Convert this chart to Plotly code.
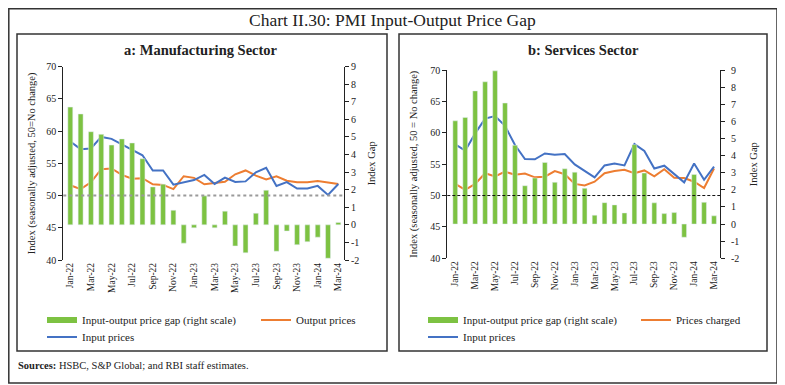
import plotly.graph_objects as go

# The page body adds an 8px offset; the figure is sized to fill the rest of the window.
OFF = 8
W, H = 785 - OFF, 385 - OFF

months = ["Jan-22", "Feb-22", "Mar-22", "Apr-22", "May-22", "Jun-22", "Jul-22", "Aug-22",
          "Sep-22", "Oct-22", "Nov-22", "Dec-22", "Jan-23", "Feb-23", "Mar-23", "Apr-23",
          "May-23", "Jun-23", "Jul-23", "Aug-23", "Sep-23", "Oct-23", "Nov-23", "Dec-23",
          "Jan-24", "Feb-24", "Mar-24"]
tick_labels = months[::2]

# a: Manufacturing
mfg_gap = [6.70, 6.31, 5.30, 5.15, 4.54, 4.89, 4.66, 3.76, 2.16, 2.31, 0.83, -1.04,
           -0.17, 1.65, -0.17, 0.78, -1.20, -1.59, 0.66, 1.97, -1.50, -0.35, -1.13, -0.96,
           -0.70, -1.90, 0.14]
mfg_input = [58.4, 57.2, 57.3, 59.1, 58.8, 57.95, 57.1, 56.25, 53.9, 53.9, 51.7, 52.0,
             52.4, 53.2, 51.8, 52.8, 52.1, 52.2, 53.6, 54.3, 51.5, 52.1, 51.1, 51.1,
             51.5, 50.1, 51.8]
mfg_output = [51.6, 51.0, 52.05, 54.1, 54.2, 53.2, 52.6, 52.7, 51.75, 51.65, 51.0, 53.0,
              52.75, 51.75, 51.95, 52.15, 53.3, 53.9, 53.1, 52.5, 53.0, 52.3, 52.05, 52.05,
              52.25, 52.05, 51.8]

# b: Services
svc_gap = [6.03, 6.23, 7.78, 8.31, 8.95, 7.07, 4.60, 2.24, 2.69, 3.60, 2.44, 3.23,
           3.03, 2.09, 0.52, 1.25, 1.12, 0.65, 4.64, 2.98, 1.24, 0.61, 0.67, -0.77,
           2.90, 1.27, 0.48]
svc_input = [58.16, 57.15, 59.9, 62.25, 62.67, 61.1, 58.05, 55.8, 55.77, 56.7, 56.5, 56.6,
             54.95, 53.9, 52.9, 54.8, 55.1, 54.8, 58.2, 57.1, 54.3, 54.75, 53.4, 52.1,
             55.1, 52.5, 54.6]
svc_output = [51.85, 50.9, 51.85, 53.55, 53.05, 53.8, 53.3, 53.5, 52.9, 53.0, 53.9, 53.4,
              51.85, 51.6, 52.2, 53.55, 53.9, 54.1, 53.55, 54.0, 53.05, 54.2, 52.85, 52.8,
              52.2, 51.2, 54.3]

left_ticks = [40, 45, 50, 55, 60, 65, 70]
right_ticks = list(range(-2, 10))
right_ticktext = [str(v) for v in right_ticks]

GREEN = "#7dc242"
ORANGE = "#ed7d31"
BLUE = "#4472c4"
FONT = "Liberation Serif"
TXT = "#222222"


def px(x):
    return (x - OFF) / W


def py(y):
    return 1 - (y - OFF) / H


fig = go.Figure()

# Panel a traces
fig.add_trace(go.Bar(x=months, y=mfg_gap, marker_color=GREEN, width=0.48,
                     xaxis="x", yaxis="y2", showlegend=False, name="Input-output price gap (right scale)"))
fig.add_trace(go.Scatter(x=months, y=mfg_output, mode="lines", line=dict(color=ORANGE, width=2),
                         xaxis="x", yaxis="y", showlegend=False, name="Output prices"))
fig.add_trace(go.Scatter(x=months, y=mfg_input, mode="lines", line=dict(color=BLUE, width=2),
                         xaxis="x", yaxis="y", showlegend=False, name="Input prices"))

# Panel b traces
fig.add_trace(go.Bar(x=months, y=svc_gap, marker_color=GREEN, width=0.48,
                     xaxis="x2", yaxis="y4", showlegend=False, name="Input-output price gap (right scale)"))
fig.add_trace(go.Scatter(x=months, y=svc_output, mode="lines", line=dict(color=ORANGE, width=2),
                         xaxis="x2", yaxis="y3", showlegend=False, name="Prices charged"))
fig.add_trace(go.Scatter(x=months, y=svc_input, mode="lines", line=dict(color=BLUE, width=2),
                         xaxis="x2", yaxis="y3", showlegend=False, name="Input prices"))


# Legend entries (legend-only traces, no data points)
def leg(name, color, width, legend, xa, ya, lw=None):
    kw = {}
    if lw:
        kw["legendwidth"] = lw
    fig.add_trace(go.Scatter(x=[None], y=[None], mode="lines", name=name,
                             line=dict(color=color, width=width), legend=legend,
                             xaxis=xa, yaxis=ya, showlegend=True, hoverinfo="skip", **kw))


leg("Input-output price gap (right scale)", GREEN, 6, "legend", "x", "y", lw=169)
leg("Output prices", ORANGE, 2, "legend", "x", "y")
leg("Input prices", BLUE, 2, "legend2", "x", "y")
leg("Input-output price gap (right scale)", GREEN, 6, "legend3", "x2", "y3", lw=168)
leg("Prices charged", ORANGE, 2, "legend3", "x2", "y3")
leg("Input prices", BLUE, 2, "legend4", "x2", "y3")

legfont = dict(family=FONT, size=11, color=TXT)
legcommon = dict(orientation="h", xanchor="left", yanchor="middle", font=legfont,
                 bgcolor="rgba(0,0,0,0)", itemwidth=30, tracegroupgap=0)

tickfont = dict(family=FONT, size=10, color=TXT)
xtickfont = dict(family=FONT, size=9.5, color=TXT)
axfont = dict(family=FONT, size=10.5, color=TXT)

yax_common = dict(showline=True, linecolor="#222", linewidth=1, ticks="outside", ticklen=4,
                  tickcolor="#222", showgrid=False, zeroline=False, tickfont=tickfont,
                  automargin=False)
xax_common = dict(type="category", showline=False, ticks="", showgrid=False, zeroline=False,
                  tickvals=tick_labels, ticktext=tick_labels, tickangle=-90, tickfont=xtickfont,
                  categoryorder="array", categoryarray=months, automargin=False)

fig.update_layout(
    width=W, height=H, margin=dict(l=0, r=0, t=0, b=0, autoexpand=False),
    paper_bgcolor="white", plot_bgcolor="white", bargap=0.5,
    xaxis=dict(domain=[px(63.3), px(344)], anchor="y", range=[-0.68, 26.55], **xax_common),
    yaxis=dict(domain=[py(260), py(66.7)], anchor="x", range=[40, 70], tickvals=left_ticks,
               title=dict(text="Index (seasonally adjusted, 50=No change)", font=axfont, standoff=8),
               **yax_common),
    yaxis2=dict(overlaying="y", side="right", anchor="x", range=[-2, 9], tickvals=right_ticks,
                ticktext=right_ticktext, title=dict(text="Index Gap", font=axfont, standoff=9),
                **yax_common),
    xaxis2=dict(domain=[px(447.3), px(720)], anchor="y3", range=[-0.8, 26.6], **xax_common),
    yaxis3=dict(domain=[py(258.3), py(70)], anchor="x2", range=[40, 70], tickvals=left_ticks,
                title=dict(text="Index (seasonally adjusted, 50 = No change)", font=axfont, standoff=10),
                **yax_common),
    yaxis4=dict(overlaying="y3", side="right", anchor="x2", range=[-2, 9], tickvals=right_ticks,
                ticktext=right_ticktext, ticklabelstandoff=4,
                title=dict(text="Index Gap", font=axfont, standoff=11),
                **yax_common),
    legend=dict(x=px(42), y=py(320), **legcommon),
    legend2=dict(x=px(42), y=py(337), **legcommon),
    legend3=dict(x=px(423), y=py(320), **legcommon),
    legend4=dict(x=px(423), y=py(337), **legcommon),
)

shapes = []
# Outer border and panel borders
shapes.append(dict(type="rect", xref="paper", yref="paper", x0=px(8.8), x1=px(777), y0=py(383), y1=py(8.8),
                   line=dict(color="#333", width=1.5), fillcolor="rgba(0,0,0,0)", layer="below"))
shapes.append(dict(type="rect", xref="paper", yref="paper", x0=px(17), x1=px(387), y0=py(351), y1=py(34),
                   line=dict(color="#333", width=1.5), fillcolor="rgba(0,0,0,0)", layer="below"))
shapes.append(dict(type="rect", xref="paper", yref="paper", x0=px(399), x1=px(767), y0=py(351), y1=py(34),
                   line=dict(color="#333", width=1.5), fillcolor="rgba(0,0,0,0)", layer="below"))
# 50 = no change reference lines
shapes.append(dict(type="line", xref="x domain", yref="y", x0=0, x1=1, y0=50, y1=50,
                   line=dict(color="#9a9a9a", width=2, dash="dot"), layer="above"))
shapes.append(dict(type="line", xref="x2 domain", yref="y3", x0=0, x1=1, y0=50, y1=50,
                   line=dict(color="#111", width=1, dash="3px,2px"), layer="above"))
fig.update_layout(shapes=shapes)

ann = []
ann.append(dict(text="Chart II.30: PMI Input-Output Price Gap", x=px(392), y=py(19.5), xref="paper", yref="paper",
                showarrow=False, xanchor="center", yanchor="middle", font=dict(family=FONT, size=17.5, color=TXT)))
ann.append(dict(text="<b>a: Manufacturing Sector</b>", x=px(201), y=py(50.5), xref="paper", yref="paper",
                showarrow=False, xanchor="center", yanchor="middle", font=dict(family=FONT, size=14.5, color=TXT)))
ann.append(dict(text="<b>b: Services Sector</b>", x=px(583), y=py(50.5), xref="paper", yref="paper",
                showarrow=False, xanchor="center", yanchor="middle", font=dict(family=FONT, size=14.5, color=TXT)))
ann.append(dict(text="<b>Sources:</b> HSBC, S&P Global; and RBI staff estimates.", x=px(16), y=py(365),
                xref="paper", yref="paper", showarrow=False, xanchor="left", yanchor="middle",
                font=dict(family=FONT, size=10.5, color=TXT)))
fig.update_layout(annotations=ann)

fig.write_html("out.html")
